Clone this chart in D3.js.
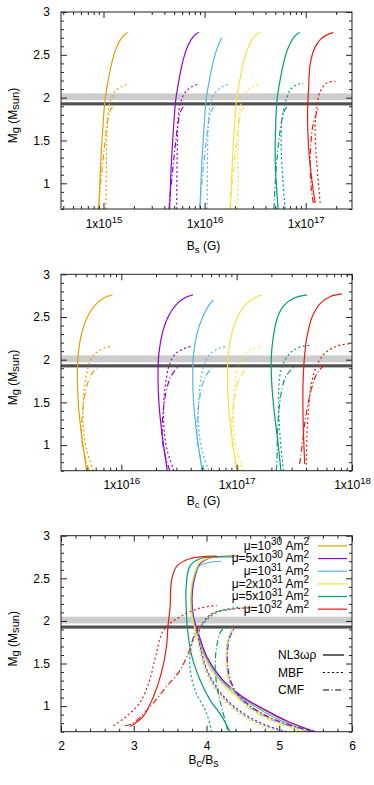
<!DOCTYPE html>
<html>
<head>
<meta charset="utf-8">
<script src="https://d3js.org/d3.v7.min.js"></script>
<style>
  body { margin: 0; background: #fff; }
  svg { display: block; }
  text { font-family: "Liberation Sans", Arial, sans-serif; font-size: 12px; fill: #000; }
</style>
</head>
<body>
<svg id="svg" width="374" height="785"></svg>
<script>
// legend entries, colours, line styles
const muBase = ["10", "5x10", "10", "2x10", "5x10", "10"];
const muExp = ["30", "30", "31", "31", "31", "32"];
const muColors = ["#e69f00", "#9400d3", "#56b4e9", "#f0e442", "#009e73", "#e51e10"];
const eosNames = ["NL3ωρ", "MBF", "CMF"];
const eosDash = [null, "2,2.5", "6,2.5,1.2,2.5"];

// tick labels
const massTicks = [1, 1.5, 2, 2.5, 3];
const bsTickExp = [15, 16, 17];
const bcTickExp = [16, 17, 18];
const ratioTicks = [2, 3, 4, 5, 6];

// observational mass bands (M_sun)
const bandLight = [1.97, 2.05];
const bandDark = [1.905, 1.948];
const bandLine = 1.928;

// panel 1: surface field B_s (units of 1e15 G) vs M_g, one curve per mu
const bsNL3 = [
  [[0.90,0.7],[0.938,1.23],[0.982,1.62],[1.035,1.97],[1.117,2.21],[1.205,2.40],[1.30,2.54],[1.40,2.63],[1.52,2.70],[1.63,2.74],[1.76,2.76]],
  [[4.50,0.7],[4.69,1.23],[4.91,1.62],[5.18,1.97],[5.59,2.21],[6.03,2.40],[6.5,2.54],[7.0,2.63],[7.6,2.70],[8.15,2.74],[8.8,2.76]],
  [[9.0,0.7],[9.38,1.23],[9.82,1.62],[10.35,1.97],[11.17,2.21],[12.05,2.40],[13.0,2.54],[14.0,2.64],[14.8,2.70]],
  [[18.0,0.7],[18.76,1.23],[19.64,1.62],[20.7,1.97],[22.34,2.21],[24.1,2.40],[26.0,2.54],[28.0,2.63],[30.4,2.70],[32.6,2.74],[35.2,2.76]],
  [[53.3,0.7],[51.5,0.95],[50.0,1.23],[50.3,1.62],[52.0,1.97],[55.9,2.21],[60.3,2.40],[65,2.54],[70,2.63],[76,2.70],[81.5,2.74],[88,2.76]],
  [[124,0.77],[115,1.04],[106.7,1.43],[104.2,1.82],[106.7,2.09],[111,2.40],[124,2.59],[140,2.68],[160,2.73],[188,2.76]]
];
const bsMBF = [
  [[1.058,0.7],[1.066,1.16],[1.076,1.51],[1.10,1.78],[1.16,1.95],[1.30,2.07],[1.51,2.13],[1.76,2.16]],
  [[5.29,0.7],[5.33,1.16],[5.38,1.51],[5.5,1.78],[5.8,1.95],[6.5,2.07],[7.55,2.13],[8.8,2.16]],
  [[10.58,0.7],[10.66,1.16],[10.76,1.51],[11.0,1.78],[11.6,1.95],[13.0,2.07],[15.1,2.13],[17.6,2.16]],
  [[21.2,0.7],[21.3,1.16],[21.5,1.51],[22,1.78],[23.2,1.95],[26,2.07],[30.2,2.13],[35.2,2.16]],
  [[62.7,0.7],[59.4,1.04],[57.2,1.43],[58.1,1.74],[62.7,1.93],[70.2,2.09],[81.8,2.15],[95,2.17]],
  [[139,0.77],[131,1.12],[126,1.39],[124,1.66],[129,1.89],[139,2.07],[162,2.17],[196,2.19]]
];
const bsCMF = [
  [[0.89,0.7],[0.923,0.92],[0.982,1.23],[1.042,1.51],[1.09,1.70],[1.16,1.84],[1.25,1.91]],
  [[4.45,0.7],[4.62,0.92],[4.91,1.23],[5.21,1.51],[5.45,1.70],[5.8,1.84],[6.25,1.91]],
  [[8.9,0.7],[9.23,0.92],[9.82,1.23],[10.42,1.51],[10.9,1.70],[11.6,1.84],[12.5,1.91]],
  [[17.8,0.7],[18.46,0.92],[19.64,1.23],[20.84,1.51],[21.8,1.70],[23.2,1.84],[25,1.91]],
  [[48.6,0.7],[50.2,1.04],[52.6,1.35],[56,1.62],[60.3,1.82],[67.6,1.93]],
  [[119,0.77],[114,0.92],[110.8,1.19],[112.5,1.47],[119,1.70],[134,1.88]]
];

// panel 2: central field B_c (units of 1e15 G) vs M_g
const bcNL3 = [
  [[5.0,0.7],[4.85,0.83],[4.5,1.14],[4.24,1.49],[4.16,1.80],[4.24,2.08],[4.54,2.31],[5.08,2.50],[5.93,2.64],[7.0,2.72],[8.38,2.76]],
  [[25,0.7],[24.25,0.83],[22.5,1.14],[21.2,1.49],[20.8,1.80],[21.2,2.08],[22.7,2.31],[25.4,2.50],[29.65,2.64],[35,2.72],[41.9,2.76]],
  [[50,0.7],[48.5,0.83],[45,1.14],[42.4,1.49],[41.6,1.80],[42.4,2.08],[45.4,2.31],[50.8,2.50],[57,2.63],[63,2.70]],
  [[100,0.7],[97,0.83],[90,1.14],[84.8,1.49],[83.2,1.80],[84.8,2.08],[90.8,2.31],[101.6,2.50],[118.6,2.64],[140,2.72],[167.6,2.76]],
  [[242,0.7],[226,1.08],[212,1.38],[202,1.70],[199.5,2.01],[206.5,2.24],[224,2.48],[255,2.63],[312,2.72],[407,2.76]],
  [[389,0.78],[381,1.08],[376,1.38],[376,1.70],[386,2.01],[407,2.27],[451,2.50],[532,2.66],[650,2.74],[820,2.77]]
];
const bcMBF = [
  [[5.73,0.7],[5.01,0.94],[4.69,1.21],[4.69,1.53],[4.94,1.80],[5.29,1.96],[5.93,2.07],[7.0,2.13],[8.38,2.16]],
  [[28.6,0.7],[25,0.94],[23.4,1.21],[23.4,1.53],[24.7,1.80],[26.4,1.96],[29.6,2.07],[35,2.13],[41.9,2.16]],
  [[57.3,0.7],[50.1,0.94],[46.9,1.21],[46.9,1.53],[49.4,1.80],[52.9,1.96],[59.3,2.07],[70,2.13],[83.8,2.16]],
  [[114.6,0.7],[100.2,0.94],[93.8,1.21],[93.8,1.53],[98.8,1.80],[105.8,1.96],[118.6,2.07],[140,2.13],[167.6,2.16]],
  [[255,0.7],[247,0.86],[236,1.17],[231,1.52],[236,1.80],[255,1.96],[292,2.08],[356,2.15],[451,2.17]],
  [[402,0.77],[407,1.11],[421,1.43],[442,1.70],[498,1.94],[588,2.08],[743,2.16],[968,2.19]]
];
const bcCMF = [
  [[5.26,0.7],[4.9,0.83],[4.54,1.06],[4.57,1.33],[4.85,1.60],[5.36,1.80],[6.13,1.91]],
  [[26.3,0.7],[24.5,0.83],[22.7,1.06],[22.85,1.33],[24.25,1.60],[26.8,1.80],[30.65,1.91]],
  [[52.6,0.7],[49,0.83],[45.4,1.06],[45.7,1.33],[48.5,1.60],[53.6,1.80],[61.3,1.91]],
  [[105.2,0.7],[98,0.83],[90.8,1.06],[91.4,1.33],[97,1.60],[107.2,1.80],[122.6,1.91]],
  [[221,0.7],[224,0.86],[226.5,1.18],[236,1.49],[255,1.73],[275,1.83],[312,1.91]],
  [[352,0.78],[369,0.99],[394,1.30],[436,1.61],[498,1.84],[600,1.96]]
];

// panel 3: ratio B_c/B_s vs M_g
const ratioNL3 = [
  [[5.48,0.70],[5.1,0.82],[4.8,0.95],[4.46,1.12],[4.2,1.32],[4.0,1.57],[3.88,1.85],[3.82,2.05],[3.80,2.28],[3.84,2.52],[3.92,2.68],[4.05,2.74],[4.44,2.76]],
  [[5.49,0.70],[5.12,0.82],[4.82,0.95],[4.48,1.12],[4.21,1.32],[4.01,1.57],[3.89,1.85],[3.82,2.05],[3.80,2.28],[3.84,2.52],[3.92,2.68],[4.05,2.74],[4.44,2.76]],
  [[5.4,0.70],[5.05,0.82],[4.76,0.95],[4.44,1.12],[4.18,1.32],[3.99,1.57],[3.87,1.85],[3.81,2.05],[3.79,2.28],[3.83,2.52],[3.91,2.65],[4.2,2.70]],
  [[5.31,0.70],[4.98,0.82],[4.7,0.95],[4.4,1.12],[4.15,1.32],[3.97,1.57],[3.86,1.85],[3.80,2.05],[3.78,2.28],[3.82,2.52],[3.9,2.68],[4.04,2.74],[4.42,2.76]],
  [[4.32,0.70],[4.21,0.88],[4.05,1.07],[3.91,1.31],[3.80,1.58],[3.74,1.89],[3.72,2.17],[3.72,2.40],[3.77,2.64],[3.91,2.73],[4.37,2.75]],
  [[2.95,0.76],[3.13,0.88],[3.27,1.11],[3.38,1.39],[3.45,1.70],[3.47,1.93],[3.50,2.17],[3.52,2.48],[3.59,2.64],[3.77,2.73],[4.14,2.76]]
];
const ratioMBF = [
  [[5.05,0.70],[4.74,0.79],[4.46,0.93],[4.19,1.15],[4.0,1.42],[3.91,1.68],[3.89,1.85],[3.96,1.99],[4.09,2.09],[4.37,2.14],[4.69,2.16]],
  [[5.1,0.70],[4.78,0.79],[4.48,0.93],[4.2,1.15],[4.01,1.42],[3.92,1.68],[3.89,1.85],[3.96,1.99],[4.09,2.09],[4.37,2.14],[4.69,2.16]],
  [[5.05,0.70],[4.74,0.79],[4.45,0.93],[4.18,1.15],[4.0,1.42],[3.91,1.68],[3.89,1.85],[3.96,1.99],[4.09,2.09],[4.37,2.14],[4.66,2.16]],
  [[4.96,0.70],[4.68,0.79],[4.42,0.93],[4.16,1.15],[3.98,1.42],[3.9,1.68],[3.88,1.85],[3.95,1.99],[4.08,2.09],[4.36,2.14],[4.69,2.16]],
  [[4.07,0.70],[4.0,0.92],[3.84,1.19],[3.77,1.50],[3.82,1.78],[4.0,2.01],[4.2,2.12],[4.45,2.16]],
  [[2.72,0.77],[2.90,0.88],[3.09,1.05],[3.22,1.31],[3.31,1.62],[3.41,1.89],[3.64,2.05],[3.91,2.15],[4.14,2.18]]
];
const ratioCMF = [
  [[5.49,0.70],[5.29,0.74],[4.92,0.84],[4.6,0.99],[4.41,1.15],[4.32,1.31],[4.28,1.50],[4.30,1.78],[4.37,1.90]],
  [[5.5,0.70],[5.3,0.74],[4.94,0.84],[4.62,0.99],[4.42,1.15],[4.33,1.31],[4.29,1.50],[4.31,1.78],[4.38,1.91]],
  [[5.45,0.70],[5.26,0.74],[4.9,0.84],[4.59,0.99],[4.4,1.15],[4.31,1.31],[4.28,1.50],[4.3,1.78],[4.37,1.91]],
  [[5.38,0.70],[5.2,0.74],[4.86,0.84],[4.56,0.99],[4.38,1.15],[4.3,1.31],[4.27,1.50],[4.29,1.78],[4.36,1.91]],
  [[4.29,0.72],[4.22,0.95],[4.15,1.2],[4.12,1.45],[4.14,1.7],[4.2,1.88],[4.26,1.92]],
  [[2.88,0.77],[2.99,0.80],[3.22,0.99],[3.45,1.23],[3.62,1.40],[3.75,1.62],[3.84,1.85],[3.91,1.95]]
];

const svg = d3.select("#svg");
const plotLeft = 61, plotRight = 352;

// text with super/subscripts: parts = [[string, ""|"sup"|"sub"], ...]
const rich = function(textSel, parts, small, up, down) {
  let shift = 0;
  parts.forEach(([s, mode]) => {
    let target = mode === "sup" ? -up : mode === "sub" ? down : 0;
    textSel.append("tspan")
      .attr("dy", target - shift)
      .attr("font-size", mode ? small + "px" : null)
      .text(s);
    shift = target;
  });
}

const logMinor = function(domain) {
  let out = [];
  for (let e = -1; e <= 4; e++) {
    for (let k = 2; k <= 9; k++) {
      let v = k * Math.pow(10, e);
      if (v > domain[0] && v < domain[1]) out.push(v);
    }
  }
  return out;
}

const panels = [
  {
    top: 12, bottom: 209,
    x: d3.scaleLog().domain([0.38, 287]),
    data: [bsNL3, bsMBF, bsCMF],
    major: bsTickExp.map(e => Math.pow(10, e - 15)),
    labels: bsTickExp.map(e => [["1x10", ""], [String(e), "sup"]]),
    minor: logMinor([0.38, 287]),
    xlabel: [["B", ""], ["s", "sub"], [" (G)", ""]],
    xlabelSize: 12,
    xlabelY: 249.5
  },
  {
    top: 274.3, bottom: 470.7,
    x: d3.scaleLog().domain([3.0, 1000]),
    data: [bcNL3, bcMBF, bcCMF],
    major: bcTickExp.map(e => Math.pow(10, e - 15)),
    labels: bcTickExp.map(e => [["1x10", ""], [String(e), "sup"]]),
    minor: logMinor([3.0, 1000]),
    xlabel: [["B", ""], ["c", "sub"], [" (G)", ""]],
    xlabelSize: 12,
    xlabelY: 505
  },
  {
    top: 535.7, bottom: 731.7,
    x: d3.scaleLinear().domain([2, 6]),
    data: [ratioNL3, ratioMBF, ratioCMF],
    major: ratioTicks,
    labels: ratioTicks.map(v => [[String(v), ""]]),
    minor: d3.range(20, 61, 2).map(v => v / 10).filter(v => !ratioTicks.includes(v)),
    xlabel: [["B", ""], ["c", "sub"], ["/B", ""], ["s", "sub"]],
    xlabelSize: 13.5,
    xlabelY: 764
  }
];

const massMinor = d3.range(7, 31).map(v => v / 10).filter(v => !massTicks.includes(v));

panels.forEach((p, idx) => {
  let x = p.x.range([plotLeft, plotRight]);
  let y = d3.scaleLinear().domain([0.7, 3]).range([p.bottom, p.top]);
  let w = plotRight - plotLeft;

  svg.append("clipPath").attr("id", "clip" + idx)
    .append("rect")
    .attr("x", plotLeft).attr("y", p.top)
    .attr("width", w).attr("height", p.bottom - p.top);

  let plot = svg.append("g").attr("clip-path", "url(#clip" + idx + ")");

  // mass constraint bands
  plot.append("rect")
    .attr("x", plotLeft).attr("width", w)
    .attr("y", y(bandLight[1])).attr("height", y(bandLight[0]) - y(bandLight[1]))
    .attr("fill", "#cccccc");
  plot.append("rect")
    .attr("x", plotLeft).attr("width", w)
    .attr("y", y(bandDark[1])).attr("height", y(bandDark[0]) - y(bandDark[1]))
    .attr("fill", "#a8a8a8");
  plot.append("line")
    .attr("x1", plotLeft).attr("x2", plotRight)
    .attr("y1", y(bandLine)).attr("y2", y(bandLine))
    .attr("stroke", "#505050").attr("stroke-width", 2.5);

  let line = d3.line()
    .x(d => x(d[0]))
    .y(d => y(d[1]))
    .curve(d3.curveCatmullRom.alpha(0.5));

  p.data.forEach((set, e) => {
    set.forEach((pts, m) => {
      plot.append("path")
        .attr("d", line(pts))
        .attr("fill", "none")
        .attr("stroke", muColors[m])
        .attr("stroke-width", 1.2)
        .attr("stroke-dasharray", eosDash[e]);
    });
  });

  // axes: ticks pointing inward on all four sides
  let axes = svg.append("g").attr("stroke-width", 1);
  let addAxis = function(axis, tx, ty) {
    let g = axes.append("g").attr("transform", "translate(" + tx + "," + ty + ")").call(axis);
    g.select(".domain").remove();
    g.selectAll("line").attr("stroke", "#222");
    return g;
  }
  let yl = addAxis(d3.axisLeft(y).tickValues(massTicks).tickSize(-6).tickPadding(11).tickFormat(d3.format("")), plotLeft, 0);
  yl.selectAll("text").attr("font-size", "12px").attr("font-family", null);
  addAxis(d3.axisLeft(y).tickValues(massMinor).tickSize(-3).tickFormat(""), plotLeft, 0);
  addAxis(d3.axisRight(y).tickValues(massTicks).tickSize(-6).tickFormat(""), plotRight, 0);
  addAxis(d3.axisRight(y).tickValues(massMinor).tickSize(-3).tickFormat(""), plotRight, 0);
  let xb = addAxis(d3.axisBottom(x).tickValues(p.major).tickSize(-6).tickFormat(""), 0, p.bottom);
  addAxis(d3.axisBottom(x).tickValues(p.minor).tickSize(-3).tickFormat(""), 0, p.bottom);
  addAxis(d3.axisTop(x).tickValues(p.major).tickSize(-6).tickFormat(""), 0, p.top);
  addAxis(d3.axisTop(x).tickValues(p.minor).tickSize(-3).tickFormat(""), 0, p.top);

  xb.selectAll(".tick text").each(function(d, i) {
    let t = d3.select(this).text(null)
      .attr("y", 18.5).attr("dy", null)
      .attr("font-size", "12px").attr("font-family", null);
    rich(t, p.labels[i], 9.6, 5, 3);
  });

  svg.append("rect")
    .attr("x", plotLeft).attr("y", p.top)
    .attr("width", w).attr("height", p.bottom - p.top)
    .attr("fill", "none").attr("stroke", "#222").attr("stroke-width", 1);

  // axis titles
  let xt = svg.append("text")
    .attr("x", (plotLeft + plotRight) / 2 - 3).attr("y", p.xlabelY)
    .attr("text-anchor", "middle")
    .attr("font-size", p.xlabelSize + "px");
  rich(xt, p.xlabel, p.xlabelSize * 0.8, 5, 3);

  let yt = svg.append("text")
    .attr("transform", "translate(16.5," + ((p.top + p.bottom) / 2 + 5) + ") rotate(-90)")
    .attr("text-anchor", "middle")
    .attr("font-size", "14px");
  rich(yt, [["M", ""], ["g", "sub"], [" (M", ""], ["sun", "sub"], [")", ""]], 11.2, 5, 2.5);

  // legends in the last panel
  if (idx === 2) {
    muBase.forEach((b, i) => {
      let ly = p.top + 10.2 + i * 12.65;
      let t = svg.append("text").attr("x", 309).attr("y", ly + 3.8)
        .attr("text-anchor", "end").attr("font-size", "12.5px");
      rich(t, [["μ=" + b, ""], [muExp[i], "sup"], [" Am", ""], ["2", "sup"]], 10, 4.5, 3);
      svg.append("line")
        .attr("x1", 318).attr("x2", 347).attr("y1", ly).attr("y2", ly)
        .attr("stroke", muColors[i]).attr("stroke-width", 1.2);
    });
    eosNames.forEach((n, i) => {
      let ly = 655 + i * 17.5;
      svg.append("text").attr("x", 278).attr("y", ly + 4.3)
        .attr("font-size", "12.5px").text(n);
      svg.append("line")
        .attr("x1", 323).attr("x2", 344).attr("y1", ly).attr("y2", ly)
        .attr("stroke", "#000").attr("stroke-width", 1.2)
        .attr("stroke-dasharray", eosDash[i]);
    });
  }
});
</script>
</body>
</html>
